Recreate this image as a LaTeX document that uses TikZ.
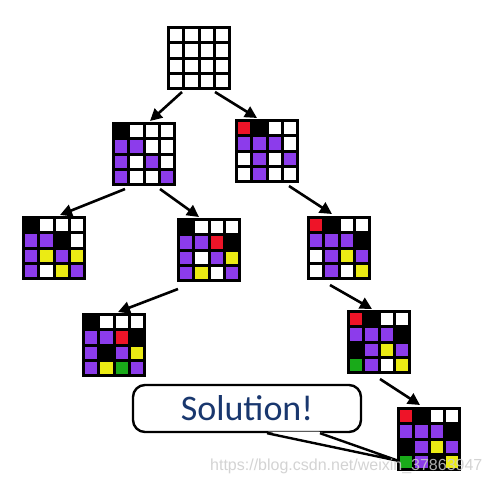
\documentclass[tikz,border=0pt]{standalone}
\usepackage{fontspec}
\newfontfamily\solfont{Carlito}
\newfontfamily\wmfont{Liberation Sans}
\usetikzlibrary{arrows.meta}
\definecolor{cW}{RGB}{255,255,255}
\definecolor{cK}{RGB}{0,0,0}
\definecolor{cP}{RGB}{140,60,235}
\definecolor{cR}{RGB}{238,20,40}
\definecolor{cY}{RGB}{235,235,20}
\definecolor{cG}{RGB}{25,170,25}
\definecolor{solblue}{RGB}{25,55,110}
\newcommand\puzzlegrid[4]{%
  \node[gridbox] (#1) at (#2+32,#3+32) {};
  \foreach \cc [count=\ii from 0] in {#4} {
    \pgfmathtruncatemacro\rr{\ii/4}
    \pgfmathtruncatemacro\kk{mod(\ii,4)}
    \fill[c\cc] (#2+3+\kk*15.25,#3+3+\rr*15.25) rectangle ++(12.25,12.25);
  }
}
\begin{document}
\begin{tikzpicture}[x=1pt,y=-1pt,
  gridbox/.style={fill=black,minimum size=64pt,inner sep=0pt,outer sep=0pt},
  conn/.style={line width=2.6pt,-{Triangle[length=12pt,width=12pt]}},
  bubble/.style={draw=black,line width=2.4pt,fill=white,rounded corners=12pt,
    minimum width=228pt,minimum height=47pt,inner sep=0pt,
    font=\solfont\fontsize{36}{40}\selectfont,text=solblue}]
\useasboundingbox[fill=white] (0,0) rectangle (491,483);
\puzzlegrid{top}{167}{26}{W,W,W,W,W,W,W,W,W,W,W,W,W,W,W,W}
\puzzlegrid{A}{112}{122}{K,W,W,W,P,P,W,W,P,W,P,W,P,W,W,P}
\puzzlegrid{B}{235}{119}{R,K,W,W,P,P,P,W,W,P,W,P,W,P,W,W}
\puzzlegrid{C}{22}{216}{K,W,W,W,P,P,K,W,P,Y,P,Y,P,W,Y,P}
\puzzlegrid{D}{177}{218}{K,W,W,W,P,P,R,K,P,W,P,Y,P,Y,W,P}
\puzzlegrid{E}{307}{216}{R,K,W,W,P,P,P,K,W,P,Y,P,W,P,W,Y}
\puzzlegrid{F}{82}{313}{K,W,W,W,P,P,R,K,P,K,P,Y,P,Y,G,P}
\puzzlegrid{Gg}{347}{310}{R,K,W,W,P,P,P,K,K,P,Y,P,G,P,W,Y}
\puzzlegrid{H}{397}{407}{R,K,W,W,P,P,P,K,K,P,Y,P,G,P,K,Y}
\draw[conn] ([shift={(-17,2)}]top.south) -- ([shift={(6,-1)}]A.north);
\draw[conn] ([shift={(16,2)}]top.south) -- ([shift={(-10,-1)}]B.north);
\draw[conn] ([shift={(-19,3)}]A.south) -- ([shift={(6,-1)}]C.north);
\draw[conn] ([shift={(16,3)}]A.south) -- ([shift={(-10,-1)}]D.north);
\draw[conn] ([shift={(22,3)}]B.south) -- ([shift={(-7,-2)}]E.north);
\draw[conn] ([shift={(-31,7)}]D.south) -- ([shift={(4,-1)}]F.north);
\draw[conn] ([shift={(-9,5)}]E.south) -- ([shift={(-7,-1)}]Gg.north);
\draw[conn] ([shift={(1,5)}]Gg.south) -- ([shift={(-9,-2)}]H.north);
\node[bubble] (sol) at (247,408.5) {Solution!};
\fill[white] ([shift={(21,-1.6)}]sol.south) -- ([shift={(2,22)}]H.west) -- ([shift={(72,-1.6)}]sol.south) -- cycle;
\draw[line width=2.4pt,line join=miter] ([shift={(20,0)}]sol.south) -- ([shift={(2,22)}]H.west) -- ([shift={(73,0)}]sol.south);
\node[anchor=base west,inner sep=0pt,text=black!20,opacity=0.85,font=\wmfont\fontsize{16}{18}\selectfont] (wm) at (210,470) {https://blog.csdn.net/weixin\_37863947};
\end{tikzpicture}
\end{document}
